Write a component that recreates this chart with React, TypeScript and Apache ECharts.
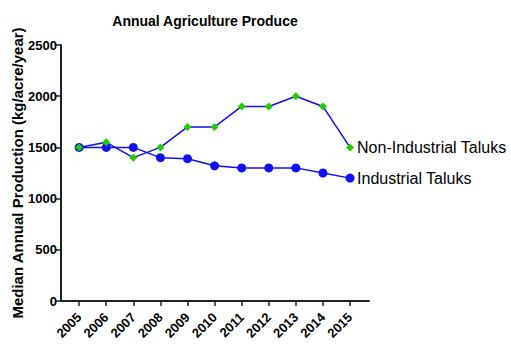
import React, { useEffect, useRef } from "react";
import * as echarts from "echarts";

const years = [2005, 2006, 2007, 2008, 2009, 2010, 2011, 2012, 2013, 2014, 2015];
const nonIndustrial = [1500, 1550, 1400, 1500, 1700, 1700, 1900, 1900, 2000, 1900, 1500];
const industrial = [1500, 1500, 1500, 1400, 1390, 1320, 1300, 1300, 1300, 1250, 1200];

export default function App() {
  const ref = useRef<HTMLDivElement>(null);
  useEffect(() => {
    const chart = echarts.init(ref.current!, null, { renderer: "svg" });
    const font = "'Liberation Sans', Arial, sans-serif";
    chart.setOption({
      animation: false,
      backgroundColor: "#ffffff",
      title: {
        text: "Annual Agriculture Produce",
        left: 200,
        top: 9,
        textAlign: "center",
        textStyle: { fontFamily: font, fontSize: 14, fontWeight: "bold", color: "#000" },
      },
      grid: { left: 61, top: 45, right: 142, bottom: 47, outerBoundsMode: "none", containLabel: false },
      xAxis: {
        type: "value",
        min: 2004.33,
        max: 2015.7,
        splitLine: { show: false },
        axisLine: { show: true, lineStyle: { color: "#222", width: 2 } },
        axisTick: { show: true, customValues: years, length: 5, lineStyle: { color: "#222", width: 1.5 } },
        axisLabel: {
          customValues: years,
          rotate: 45,
          fontFamily: font,
          fontSize: 13,
          fontWeight: "bold",
          color: "#000",
          margin: 14,
          formatter: (v: number) => String(Math.round(v)),
        },
      },
      yAxis: {
        type: "value",
        min: 0,
        max: 2500,
        interval: 500,
        name: "Median Annual Production (kg/acre/year)",
        nameLocation: "middle",
        nameGap: 36,
        nameMoveOverlap: false,
        nameTextStyle: { fontFamily: font, fontSize: 15, fontWeight: "bold", color: "#000" },
        splitLine: { show: false },
        axisLine: { show: true, lineStyle: { color: "#222", width: 2 } },
        axisTick: { show: true, length: 5, lineStyle: { color: "#222", width: 1.5 } },
        axisLabel: {
          fontFamily: font,
          fontSize: 13,
          fontWeight: "bold",
          color: "#000",
          margin: 4,
          formatter: (v: number) => String(v),
        },
      },
      series: [
        {
          name: "Industrial Taluks",
          type: "line",
          data: years.map((y, i) => [y, industrial[i]]),
          symbol: "circle",
          symbolSize: 9,
          lineStyle: { color: "#1010f0", width: 1.5 },
          itemStyle: { color: "#1010f0" },
          endLabel: {
            show: true,
            formatter: "{a}",
            fontFamily: font,
            fontSize: 16,
            color: "#000",
            distance: 7,
          },
        },
        {
          name: "Non-Industrial Taluks",
          type: "line",
          data: years.map((y, i) => [y, nonIndustrial[i]]),
          symbol: "diamond",
          symbolSize: 8,
          lineStyle: { color: "#1010f0", width: 1.5 },
          itemStyle: { color: "#22cc00" },
          endLabel: {
            show: true,
            formatter: "{a}",
            fontFamily: font,
            fontSize: 16,
            color: "#000",
            distance: 7,
          },
        },
      ],
    });
    return () => chart.dispose();
  }, []);
  return <div ref={ref} style={{ width: 511, height: 348, position: "absolute", left: 0, top: 0 }} />;
}
